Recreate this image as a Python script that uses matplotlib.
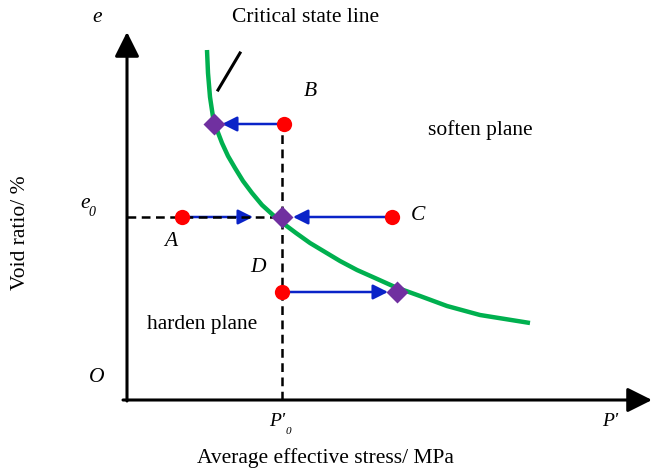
import numpy as np
import matplotlib
matplotlib.use('Agg')
import matplotlib.pyplot as plt

plt.rcParams['font.family'] = ['Liberation Serif', 'DejaVu Serif']

# critical state line (p', e)
csl_p = [80, 81, 83, 86, 90, 95, 101, 108, 116, 125, 135, 146, 157, 169,
         183, 198, 213, 230, 248, 268, 293, 320, 353, 403]
csl_e = [350, 327, 303, 283, 270, 257, 244, 232, 219, 207, 195, 185, 176, 167,
         157, 148, 139, 130, 122, 113, 104, 94, 85, 77]

p0 = 155     # P'0
e0 = 183     # e0

# initial states A, B, C, D
start_lbl = ['A', 'B', 'C', 'D']
start_p = [55, 157, 265, 155]
start_e = [183, 276, 183, 108]
# where each path arrow stops
arrow_p = [126, 95, 166, 261]

# states reached on the critical state line
end_p = [87, 155, 270]
end_e = [276, 183, 108]

fig = plt.figure(figsize=(6.52, 4.71), dpi=100)
ax = fig.add_axes([0, 0, 1, 1])
ax.set_xlim(-127, 525)
ax.set_ylim(-71, 400)
ax.axis('off')

# axes with arrow heads
ax.annotate('', xy=(0, 368), xytext=(0, -1),
            arrowprops=dict(arrowstyle='-|>,head_length=15,head_width=7.5',
                            mutation_scale=1, lw=2.2, color='black',
                            shrinkA=0, shrinkB=0))
ax.annotate('', xy=(525, 0), xytext=(-4, 0),
            arrowprops=dict(arrowstyle='-|>,head_length=15,head_width=7.5',
                            mutation_scale=1, lw=2.2, color='black',
                            shrinkA=0, shrinkB=0))

# loading paths
for sp, se, ap in zip(start_p, start_e, arrow_p):
    ax.annotate('', xy=(ap, se), xytext=(sp, se),
                arrowprops=dict(arrowstyle='-|>,head_length=9,head_width=4.5',
                                mutation_scale=1, lw=1.8, color='#0a23c8',
                                shrinkA=0, shrinkB=0), zorder=2)

# reference lines through P'0 and e0
ax.plot([0, p0], [e0, e0], color='black', lw=1.8, ls=(0, (3.5, 2.2)), zorder=3)
ax.plot([p0, p0], [0, start_e[1]], color='black', lw=1.8, ls=(0, (3.5, 2.2)), zorder=3)

ax.plot(csl_p, csl_e, color='#00b04f', lw=3.2, solid_capstyle='butt',
        solid_joinstyle='round', zorder=4)

ax.plot(start_p, start_e, 'o', ms=11, color='#ff0000', mec='none', zorder=6)
ax.plot(end_p, end_e, 'D', ms=11, color='#7030a0', mec='none', zorder=6)

# leader to the curve label
ax.plot([91, 113], [310, 347], color='black', lw=2.2)

fs = 15.5
ax.text(179, 383, 'Critical state line', fontsize=fs, ha='center', va='center')
ax.text(353, 270, 'soften plane', fontsize=fs, ha='center', va='center')
ax.text(20, 75, 'harden plane', fontsize=fs, ha='left', va='center')

lbl_pos = {'A': (44, 158), 'B': (183, 308), 'C': (291, 184), 'D': (131, 132)}
for name in start_lbl:
    x, y = lbl_pos[name]
    ax.text(x, y, name, fontsize=fs, style='italic', ha='center', va='center')

ax.text(-30, 382, 'e', fontsize=fs, style='italic', ha='center', va='center')
ax.text(-42, 196, 'e', fontsize=fs, style='italic', ha='center', va='center')
ax.text(-35, 188, '0', fontsize=10, style='italic', ha='center', va='center')
ax.text(-30, 22, 'O', fontsize=fs, style='italic', ha='center', va='center')
ax.text(p0 - 5, -22, "P'", fontsize=fs - 1.5, style='italic', ha='center', va='center')
ax.text(p0 + 6, -31, '0', fontsize=8, style='italic', ha='center', va='center')
ax.text(483, -22, "P'", fontsize=fs - 1.5, style='italic', ha='center', va='center')

ax.text(198, -58, 'Average effective stress/ MPa', fontsize=fs, ha='center', va='center')
ax.text(-107, 167, 'Void ratio/ %', fontsize=fs, rotation=90, ha='center', va='center')

fig.savefig('out.png', dpi=100)
